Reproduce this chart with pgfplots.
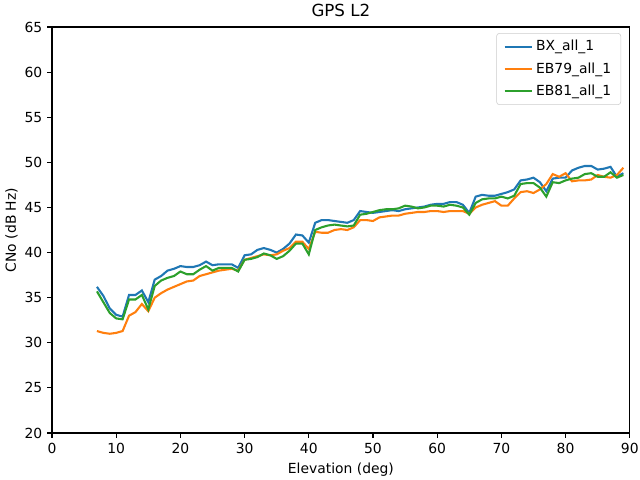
\documentclass[border=0pt]{standalone}
\usepackage{fontspec}
\setmainfont{DejaVu Sans}
\usepackage{pgfplots}
\pgfplotsset{compat=1.18}
\usepackage{pgfplotstable}

\definecolor{mplblue}{HTML}{1F77B4}
\definecolor{mplorange}{HTML}{FF7F0E}
\definecolor{mplgreen}{HTML}{2CA02C}

% elevation (deg) vs CNo (dB Hz)
\pgfplotstableread{
el  bx    eb79  eb81
7   36.2  31.3  35.7
8   35.2  31.1  34.5
9   33.8  31.0  33.3
10  33.1  31.1  32.7
11  32.9  31.3  32.6
12  35.3  33.0  34.8
13  35.3  33.4  34.8
14  35.8  34.3  35.3
15  34.5  33.5  33.7
16  37.0  35.0  36.3
17  37.4  35.5  36.9
18  38.0  35.9  37.2
19  38.2  36.2  37.4
20  38.5  36.5  37.9
21  38.4  36.8  37.6
22  38.4  36.9  37.6
23  38.6  37.4  38.1
24  39.0  37.6  38.5
25  38.6  37.8  38.0
26  38.7  38.0  38.3
27  38.7  38.1  38.3
28  38.7  38.2  38.3
29  38.3  38.0  37.9
30  39.7  39.2  39.2
31  39.8  39.4  39.3
32  40.3  39.6  39.5
33  40.5  39.8  39.9
34  40.3  39.7  39.7
35  40.0  39.8  39.3
36  40.4  40.2  39.6
37  41.0  40.5  40.2
38  42.0  41.2  41.0
39  41.9  41.2  41.0
40  41.1  40.4  39.8
41  43.3  42.3  42.5
42  43.6  42.2  42.8
43  43.6  42.2  43.0
44  43.5  42.5  43.1
45  43.4  42.6  43.0
46  43.3  42.5  42.9
47  43.6  42.8  43.0
48  44.6  43.6  44.2
49  44.5  43.6  44.3
50  44.4  43.5  44.5
51  44.5  43.9  44.7
52  44.6  44.0  44.8
53  44.7  44.1  44.8
54  44.6  44.1  44.9
55  44.8  44.3  45.2
56  44.9  44.4  45.1
57  45.0  44.5  44.9
58  45.1  44.5  45.0
59  45.3  44.6  45.2
60  45.4  44.6  45.2
61  45.4  44.5  45.1
62  45.6  44.6  45.3
63  45.6  44.6  45.2
64  45.3  44.6  45.0
65  44.4  44.3  44.2
66  46.2  45.0  45.5
67  46.4  45.3  45.9
68  46.3  45.5  46.0
69  46.3  45.7  46.0
70  46.5  45.2  46.2
71  46.7  45.2  46.0
72  47.0  46.0  46.3
73  48.0  46.7  47.6
74  48.1  46.8  47.7
75  48.3  46.6  47.7
76  47.8  47.0  47.2
77  46.8  47.6  46.2
78  48.2  48.7  47.8
79  48.3  48.4  47.7
80  48.3  48.8  48.0
81  49.1  47.9  48.2
82  49.4  48.0  48.3
83  49.6  48.0  48.7
84  49.6  48.1  48.8
85  49.2  48.6  48.4
86  49.3  48.4  48.4
87  49.5  48.3  48.9
88  48.4  48.6  48.3
89  48.8  49.4  48.6
}\cnodata

\begin{document}
\begin{tikzpicture}
% fix the page to the figure size (640x480 px at 100 dpi)
\path[use as bounding box] (-37.44pt,-33.84pt) rectangle (423.36pt,311.76pt);
\begin{axis}[
    scale only axis,
    width=416pt, height=292.3pt,
    xmin=0, xmax=90, ymin=20, ymax=65,
    xtick={0,10,...,90},
    ytick={20,25,...,65},
    tick align=outside,
    tick pos=left,
    major tick length=3.5pt,
    every tick/.style={black, line width=0.8pt},
    axis line style={line width=0.8pt},
    /pgf/number format/assume math mode=true,
    tick label style={font=\fontsize{10}{12}\selectfont},
    label style={font=\fontsize{10}{12}\selectfont},
    xlabel={Elevation (deg)},
    ylabel={CNo (dB Hz)},
    ylabel shift=-2pt,
    title={GPS L2},
    title style={font=\fontsize{12}{14}\selectfont, yshift=-2pt},
    legend pos=north east,
    legend cell align=left,
    legend style={font=\fontsize{10}{12}\selectfont, draw=black!20, rounded corners=2pt,
        fill=white, fill opacity=0.8, text opacity=1, inner xsep=5pt, inner ysep=3pt, row sep=3pt,
        at={(0.985,0.985)}},
    legend image code/.code={\draw[#1, line width=1.5pt] (0pt,0pt) -- (20pt,0pt);},
]
\addplot[mplblue, line width=1.5pt] table[x=el, y=bx] {\cnodata};
\addlegendentry{BX\_all\_1}
\addplot[mplorange, line width=1.5pt] table[x=el, y=eb79] {\cnodata};
\addlegendentry{EB79\_all\_1}
\addplot[mplgreen, line width=1.5pt] table[x=el, y=eb81] {\cnodata};
\addlegendentry{EB81\_all\_1}
\end{axis}
\end{tikzpicture}
\end{document}
